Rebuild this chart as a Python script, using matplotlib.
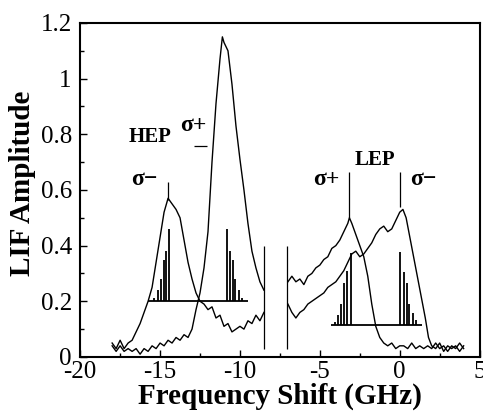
import numpy as np
import matplotlib
matplotlib.use("Agg")
import matplotlib.pyplot as plt

# HEP scans (left part), frequency in GHz
hep_minus_x = [-18.0, -17.75, -17.5, -17.25, -17.0, -16.75, -16.5, -16.25, -16.0, -15.75,
               -15.5, -15.25, -15.0, -14.75, -14.5, -14.25, -14.0, -13.75, -13.5, -13.25,
               -13.0, -12.75, -12.5, -12.25, -12.0, -11.75, -11.5, -11.25, -11.0, -10.75,
               -10.5, -10.25, -10.0, -9.75, -9.5, -9.25, -9.0, -8.75, -8.5]
hep_minus_y = [0.05, 0.03, 0.06, 0.03, 0.05, 0.06, 0.09, 0.12, 0.16, 0.20,
               0.25, 0.34, 0.43, 0.52, 0.57, 0.55, 0.53, 0.50, 0.42, 0.34,
               0.28, 0.23, 0.20, 0.19, 0.17, 0.18, 0.14, 0.15, 0.11, 0.12,
               0.09, 0.10, 0.11, 0.10, 0.13, 0.12, 0.15, 0.13, 0.16]

hep_plus_x = [-18.0, -17.75, -17.5, -17.25, -17.0, -16.75, -16.5, -16.25, -16.0, -15.75,
              -15.5, -15.25, -15.0, -14.75, -14.5, -14.25, -14.0, -13.75, -13.5, -13.25,
              -13.0, -12.75, -12.5, -12.25, -12.0, -11.75, -11.5, -11.25, -11.1, -11.0,
              -10.75, -10.5, -10.25, -10.0, -9.75, -9.5, -9.25, -9.0, -8.75, -8.5]
hep_plus_y = [0.04, 0.02, 0.04, 0.02, 0.03, 0.02, 0.03, 0.01, 0.03, 0.02,
              0.04, 0.03, 0.05, 0.04, 0.06, 0.05, 0.07, 0.06, 0.08, 0.07,
              0.10, 0.17, 0.23, 0.32, 0.45, 0.70, 0.91, 1.07, 1.15, 1.13,
              1.10, 0.98, 0.83, 0.71, 0.60, 0.48, 0.38, 0.32, 0.27, 0.24]

# LEP scans (right part)
lep_plus_x = [-7.0, -6.75, -6.5, -6.25, -6.0, -5.75, -5.5, -5.25, -5.0, -4.75,
              -4.5, -4.25, -4.0, -3.75, -3.5, -3.25, -3.15, -3.0, -2.75, -2.5,
              -2.25, -2.0, -1.75, -1.5, -1.25, -1.0, -0.75, -0.5, -0.25, 0.0,
              0.25, 0.5, 0.75, 1.0, 1.25, 1.5, 1.75, 2.0, 2.25, 2.5,
              2.75, 3.0, 3.25, 3.5, 3.75, 4.0]
lep_plus_y = [0.27, 0.29, 0.27, 0.28, 0.26, 0.29, 0.30, 0.32, 0.33, 0.35,
              0.36, 0.39, 0.40, 0.42, 0.45, 0.48, 0.50, 0.48, 0.44, 0.40,
              0.36, 0.29, 0.19, 0.11, 0.07, 0.05, 0.04, 0.05, 0.03, 0.04,
              0.04, 0.03, 0.05, 0.03, 0.04, 0.03, 0.04, 0.03, 0.05, 0.03,
              0.04, 0.02, 0.04, 0.03, 0.05, 0.03]

lep_minus_x = [-7.0, -6.75, -6.5, -6.25, -6.0, -5.75, -5.5, -5.25, -5.0, -4.75,
               -4.5, -4.25, -4.0, -3.75, -3.5, -3.25, -3.0, -2.75, -2.5, -2.25,
               -2.0, -1.75, -1.5, -1.25, -1.0, -0.75, -0.5, -0.25, 0.0, 0.2,
               0.4, 0.6, 0.8, 1.0, 1.2, 1.4, 1.6, 1.8, 2.0, 2.25,
               2.5, 2.75, 3.0, 3.25, 3.5, 3.75, 4.0]
lep_minus_y = [0.19, 0.16, 0.14, 0.16, 0.17, 0.19, 0.20, 0.21, 0.22, 0.23,
               0.25, 0.26, 0.27, 0.29, 0.31, 0.34, 0.37, 0.38, 0.36, 0.37,
               0.39, 0.41, 0.44, 0.46, 0.47, 0.45, 0.46, 0.49, 0.52, 0.53,
               0.50, 0.44, 0.38, 0.32, 0.26, 0.20, 0.14, 0.07, 0.04, 0.03,
               0.05, 0.02, 0.04, 0.03, 0.04, 0.02, 0.04]

# stick spectra
hep_minus_sticks = [-15.35, -15.15, -14.92, -14.75, -14.6, -14.43]
hep_plus_sticks = [-10.78, -10.62, -10.45, -10.28, -10.05, -9.85]
hep_minus_tops = [0.21, 0.24, 0.28, 0.35, 0.38, 0.46]
hep_plus_tops = [0.46, 0.38, 0.35, 0.28, 0.24, 0.21]
hep_base = 0.2
hep_base_span = [-15.75, -9.5]

lep_plus_sticks = [-4.06, -3.86, -3.69, -3.48, -3.27, -3.06]
lep_minus_sticks = [0.04, 0.25, 0.44, 0.61, 0.81, 1.02]
lep_plus_tops = [0.127, 0.15, 0.19, 0.267, 0.307, 0.374]
lep_minus_tops = [0.377, 0.305, 0.267, 0.19, 0.158, 0.133]
lep_base = 0.115
lep_base_span = [-4.33, 1.39]

break_x = [-8.48, -7.08]

plt.rcParams['font.family'] = ['Liberation Serif', 'DejaVu Serif']
plt.rcParams['axes.unicode_minus'] = False

fig = plt.figure(figsize=(4.83, 4.17), dpi=100)
ax = fig.add_axes([0.166, 0.144, 0.827, 0.801])

for xs, ys in [(hep_minus_x, hep_minus_y), (hep_plus_x, hep_plus_y),
               (lep_plus_x, lep_plus_y), (lep_minus_x, lep_minus_y)]:
    ax.plot(xs, ys, color='black', lw=1.0)

ax.vlines(hep_minus_sticks, hep_base, hep_minus_tops, color='black', lw=1.3)
ax.vlines(hep_plus_sticks, hep_base, hep_plus_tops, color='black', lw=1.3)
ax.hlines(hep_base, *hep_base_span, color='black', lw=1.3)
ax.vlines(lep_plus_sticks, lep_base, lep_plus_tops, color='black', lw=1.3)
ax.vlines(lep_minus_sticks, lep_base, lep_minus_tops, color='black', lw=1.3)
ax.hlines(lep_base, *lep_base_span, color='black', lw=1.3)

ax.vlines(break_x, 0.03, 0.397, color='black', lw=0.9)

# peak labels
ax.vlines(-14.48, 0.565, 0.63, color='black', lw=0.9)
ax.hlines(0.757, -12.9, -12.06, color='black', lw=0.9)
ax.vlines(-3.15, 0.50, 0.664, color='black', lw=0.9)
ax.vlines(0.04, 0.54, 0.664, color='black', lw=0.9)

lbl = dict(fontsize=15, fontweight='bold', ha='center', va='center')
sig = dict(fontsize=17, fontweight='bold', ha='center', va='center')
ax.text(-15.6, 0.79, 'HEP', **lbl)
ax.text(-12.93, 0.83, 'σ+', **sig)
ax.text(-16.0, 0.637, 'σ−', **sig)
ax.text(-1.57, 0.709, 'LEP', **lbl)
ax.text(-4.6, 0.637, 'σ+', **sig)
ax.text(1.47, 0.637, 'σ−', **sig)

ax.set_xlim(-20, 5)
ax.set_ylim(0, 1.2)
ax.set_xticks([-20, -15, -10, -5, 0, 5])
ax.set_xticks([-17.5, -12.5, -7.5, -2.5, 2.5], minor=True)
ax.set_yticks([0, 0.2, 0.4, 0.6, 0.8, 1.0, 1.2])
ax.set_yticklabels(['0', '0.2', '0.4', '0.6', '0.8', '1', '1.2'])
ax.set_yticks([0.1, 0.3, 0.5, 0.7, 0.9, 1.1], minor=True)
ax.tick_params(which='both', direction='in', top=False, right=False,
               labelsize=18, width=1.0)
ax.tick_params(which='major', length=5)
ax.tick_params(which='minor', length=3)
ax.tick_params(axis='x', pad=3)
ax.tick_params(axis='y', pad=6)
for s in ax.spines.values():
    s.set_linewidth(1.5)

ax.set_xlabel('Frequency Shift (GHz)', fontsize=21, fontweight='bold', labelpad=0)
ax.set_ylabel('LIF Amplitude', fontsize=21, fontweight='bold')
ax.yaxis.set_label_coords(-0.11, 0.52)

fig.savefig('out.png', dpi=100)
